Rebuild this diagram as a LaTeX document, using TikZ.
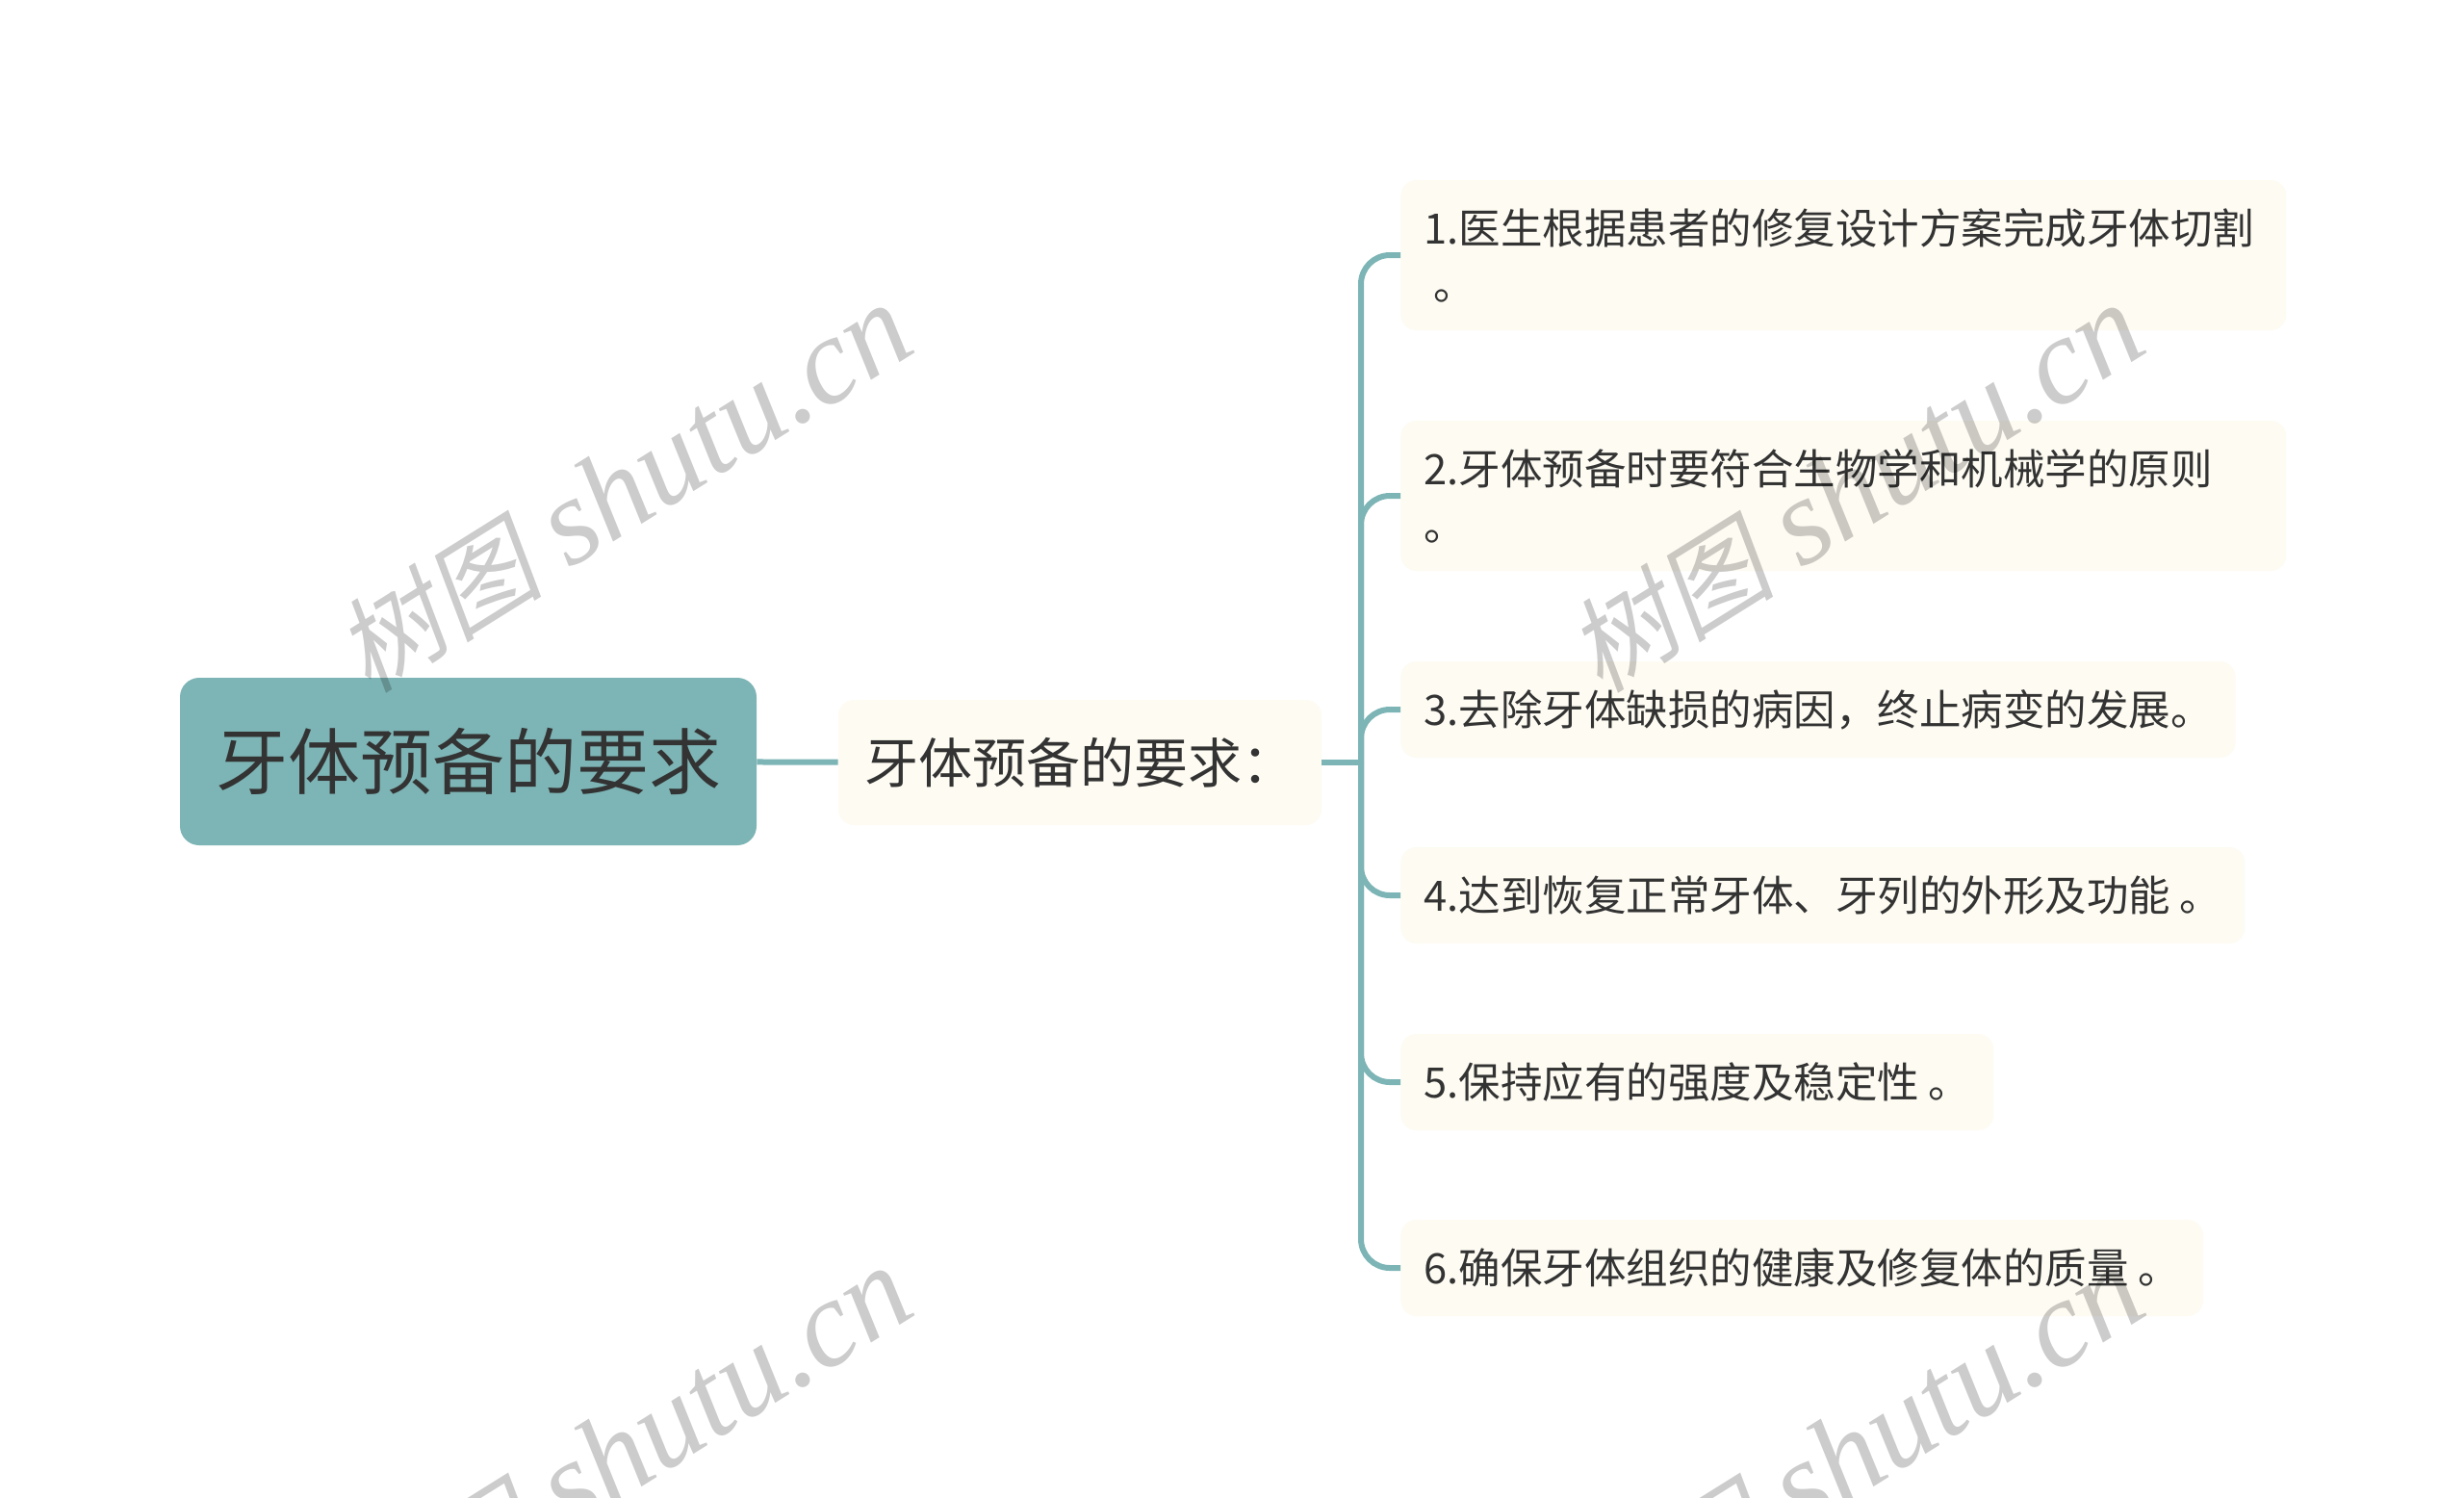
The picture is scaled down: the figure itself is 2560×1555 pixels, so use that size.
\documentclass[tikz,border=0pt]{standalone}
\usepackage{fontspec}
\setmainfont{Noto Sans CJK SC}
\newfontfamily\wmlatin{Liberation Serif}
\newfontfamily\wmcjk{Noto Sans CJK SC}[FakeSlant=0.2]
\definecolor{mapteal}{HTML}{7DB4B5}
\definecolor{leafbg}{HTML}{FDFBF2}
\definecolor{inkgray}{HTML}{333333}

\begin{document}
\begin{tikzpicture}[
  x=0.5pt, y=-0.5pt,
  root/.style={rectangle, rounded corners=10pt, fill=mapteal, minimum width=299.5pt, minimum height=87pt, text=inkgray, font=\fontsize{37.5}{45}\selectfont},
  topic/.style={rectangle, rounded corners=8pt, fill=leafbg, minimum width=251pt, minimum height=65pt, text=inkgray, font=\fontsize{28}{34}\selectfont},
  leaf/.style={rectangle, rounded corners=8pt, fill=leafbg, anchor=west, inner xsep=12pt, inner ysep=0pt, minimum height=50pt, align=left, text=inkgray, font=\fontsize{21.75}{29}\selectfont},
  link/.style={draw=mapteal, line width=3pt},
  branch/.style={link, rounded corners=15pt},
  wmark/.style={rotate=32, text=black, text opacity=0.2, font=\fontsize{64}{74}\selectfont}
]
\useasboundingbox (0,0) rectangle (2560,1555);
\clip (0,0) rectangle (2560,1555);

\node[root] (req) at (486.5,791) {牙体预备的要求};
\node[topic] (reqs) at (1122,792) {牙体预备的要求：};
\coordinate (hub) at (1414,792);

\node[leaf, text width=436pt, minimum height=78pt] (leaf1) at (1455,265) {1.医生根据患者的修复设计方案完成牙体切割\\\hspace*{5pt}。};
\node[leaf, text width=436pt, minimum height=78pt] (leaf2) at (1455,515) {2.牙体预备时要符合生物学和机械学的原则\\。};
\node[leaf] (leaf3) at (1455,737) {3.去除牙体缺损的病因，终止病变的发展。};
\node[leaf] (leaf4) at (1455,930) {4.达到恢复正常牙体、牙列的外形及功能 。};
\node[leaf] (leaf5) at (1455,1124) {5.保持应有的强度及稳定性 。};
\node[leaf] (leaf6) at (1455,1317) {6.确保牙体组织的健康及修复体的质量 。};

\draw[link] (req) -- (reqs);
\draw[link] (reqs.east) -- (hub);
\foreach \n in {1,...,6}
  \draw[branch] (hub) |- (leaf\n.west);

% watermarks
\node[wmark] (wm1) at (648,508) {{\wmcjk\fontsize{54}{64}\selectfont 树图} {\wmlatin\itshape shutu.cn}};
\node[wmark] (wm2) at (1928,508) {{\wmcjk\fontsize{54}{64}\selectfont 树图} {\wmlatin\itshape shutu.cn}};
\node[wmark] (wm3) at (648,1508) {{\wmcjk\fontsize{54}{64}\selectfont 树图} {\wmlatin\itshape shutu.cn}};
\node[wmark] (wm4) at (1928,1508) {{\wmcjk\fontsize{54}{64}\selectfont 树图} {\wmlatin\itshape shutu.cn}};
\end{tikzpicture}
\end{document}
